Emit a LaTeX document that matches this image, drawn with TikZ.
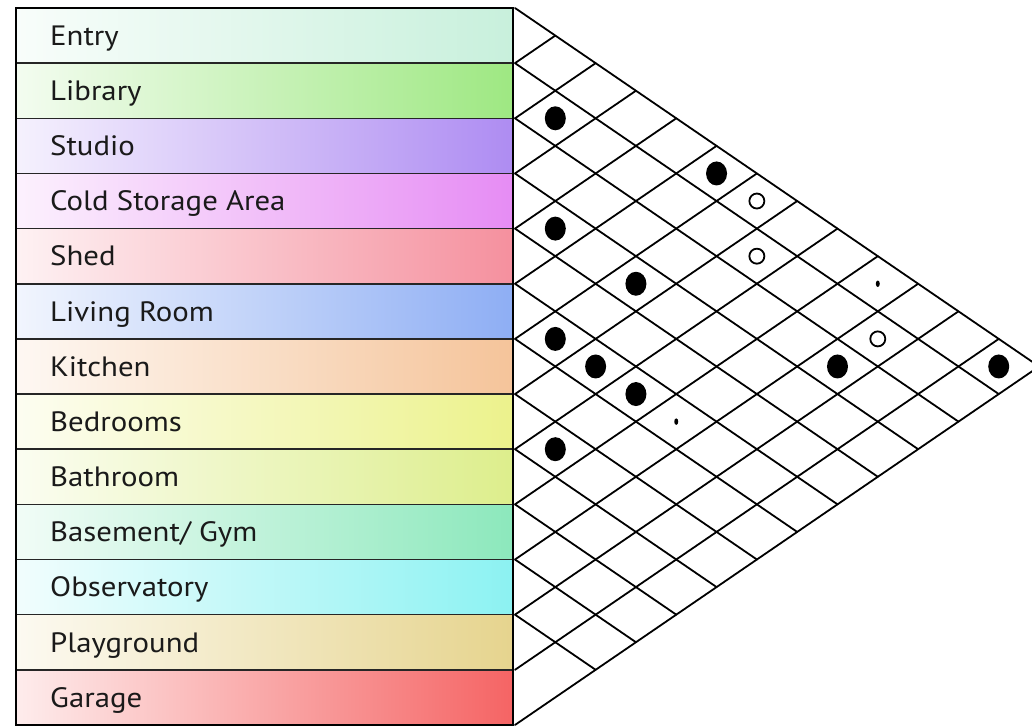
\documentclass[tikz,border=0pt]{standalone}
\usepackage{fontspec}
\setmainfont[FakeStretch=1.1]{PT Sans}
\usetikzlibrary{shapes.geometric}
\definecolor{cEntry}{HTML}{C8F0DC}
\definecolor{cLibrary}{HTML}{9EE882}
\definecolor{cStudio}{HTML}{AE8CF2}
\definecolor{cCold}{HTML}{E68CF4}
\definecolor{cShed}{HTML}{F5909E}
\definecolor{cLiving}{HTML}{8EAEF4}
\definecolor{cKitchen}{HTML}{F5C49A}
\definecolor{cBedrooms}{HTML}{ECF28C}
\definecolor{cBathroom}{HTML}{DDEE8C}
\definecolor{cBasement}{HTML}{8CE8BC}
\definecolor{cObservatory}{HTML}{8CF2F2}
\definecolor{cPlayground}{HTML}{E6D48E}
\definecolor{cGarage}{HTML}{F56464}
\definecolor{labeltext}{HTML}{1A1A1A}
\begin{document}
\begin{tikzpicture}[x=1pt,y=-1pt,
  gridline/.style={line width=1.8pt,line cap=round},
  rowlabel/.style={anchor=base west,inner sep=0pt,text=labeltext,font=\fontsize{28}{30}\selectfont},
  fdot/.style={ellipse,fill=black,inner sep=0pt,minimum width=21pt,minimum height=24pt},
  odot/.style={circle,draw=black,line width=1.8pt,fill=white,inner sep=0pt,minimum size=15pt},
  sdot/.style={ellipse,fill=black,inner sep=0pt,minimum width=4pt,minimum height=6.5pt}]
\useasboundingbox (0,0) rectangle (1032,727);
\clip (0,0) rectangle (1032,727);
\fill[white] (0,0) rectangle (1032,727);
% label column
\foreach \i/\name/\col in {0/Entry/cEntry,1/Library/cLibrary,2/Studio/cStudio,3/Cold Storage Area/cCold,4/Shed/cShed,5/Living Room/cLiving,6/Kitchen/cKitchen,7/Bedrooms/cBedrooms,8/Bathroom/cBathroom,9/{Basement/ Gym}/cBasement,10/Observatory/cObservatory,11/Playground/cPlayground,12/Garage/cGarage}{
  \pgfmathsetmacro\ya{8+55.15*\i}
  \pgfmathsetmacro\yb{8+55.15*(\i+1)}
  \pgfmathsetmacro\ym{8+55.15*(\i+0.5)+9.8}
  \shade[left color=\col!12!white,right color=\col] (16,\ya) rectangle (513,\yb);
  \node[rowlabel] (r\i) at (50,\ym) {\name};
}
\foreach \i in {1,...,12}{
  \pgfmathsetmacro\ya{8+55.15*\i}
  \draw[line width=1.5pt,black!85] (16,\ya) -- (513,\ya);
}
\draw[line width=1.8pt] (16,8) rectangle (513,724.95);
% lattice
\foreach \k in {0,...,13}{
  \pgfmathsetmacro\yk{8+55.15*\k}
  \pgfmathsetmacro\dxd{(724.95-\yk)/(2*0.684)}
  \pgfmathsetmacro\yd{(\yk+724.95)/2}
  \pgfmathsetmacro\dxu{(\yk-8)/(2*0.684)}
  \pgfmathsetmacro\yu{(\yk+8)/2}
  \coordinate (g\k) at (515,\yk);
  \ifnum\k<12 \draw[gridline] (g\k) -- ({515+\dxd},\yd); \fi
  \ifnum\k>0 \draw[gridline] (g\k) -- ({515+\dxu},\yu); \fi
}
% marks
\foreach \i/\j/\s/\n in {1/2/fdot/m1,0/5/fdot/m2,0/6/odot/m3,3/4/fdot/m4,1/7/odot/m5,3/6/fdot/m6,0/9/sdot/m7,5/6/fdot/m8,1/10/odot/m9,5/7/fdot/m10,2/10/fdot/m11,0/12/fdot/m12,5/8/fdot/m13,5/9/sdot/m14,7/8/fdot/m15}{
  \node[\s] (\n) at ({515+(\j-\i)*40.31},{8+55.15*(\i+\j+1)/2}) {};
}
\end{tikzpicture}
\end{document}
